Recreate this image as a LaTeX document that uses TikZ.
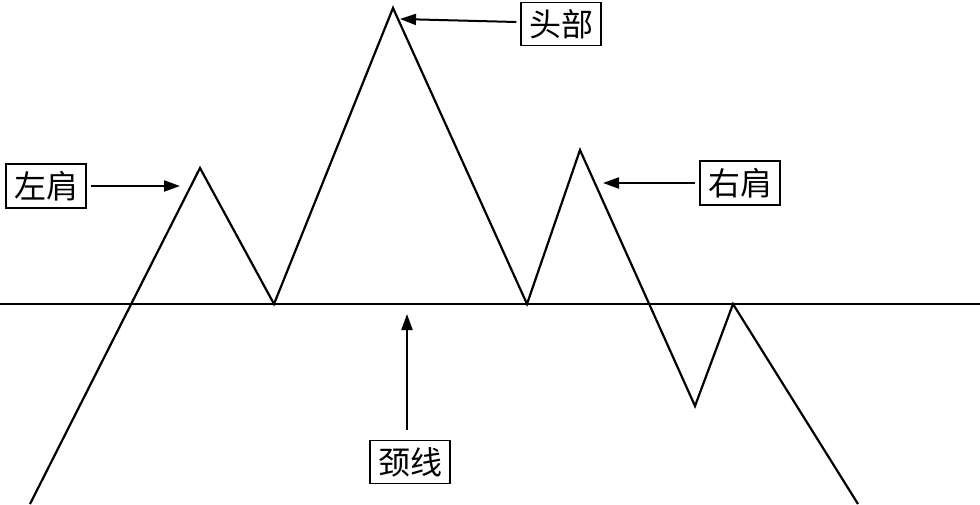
\documentclass[tikz,border=0pt]{standalone}
\usepackage{fontspec}
\newfontfamily\cjk{Noto Sans CJK SC}
\usetikzlibrary{arrows.meta}
\begin{document}
\begin{tikzpicture}[x=1pt,y=-1pt,
  lbl/.style={draw,line width=1.2pt,font=\cjk\fontsize{32}{34}\selectfont,inner xsep=8pt,inner ysep=7pt,fill=white},
  arr/.style={line width=2pt,-{Triangle[length=16pt,width=11pt]}},
  ln/.style={line width=2.2pt,line join=miter}]
\useasboundingbox (0,0) rectangle (980,504);
\draw[ln] (0,304) coordinate (nl) -- (980,304) coordinate (nr);
\draw[ln] (30,504) coordinate (s) -- (200,168) coordinate (ls) -- (274,304) coordinate (v1)
  -- (393,8) coordinate (hd) -- (527,304) coordinate (v2) -- (580,150) coordinate (rs)
  -- (695,406) coordinate (v3) -- (733,304) coordinate (v4) -- (858,504) coordinate (e);
\node[lbl] (lsl) at (46,186) {左肩};
\node[lbl] (hdl) at (561,24) {头部};
\node[lbl] (rsl) at (740,183) {右肩};
\node[lbl] (nkl) at (410,462) {颈线};
\coordinate (lsa) at (180,186);
\coordinate (hda) at (400,19);
\coordinate (rsa) at (603,183);
\coordinate (nka) at (407,314);
\draw[arr] (lsl.east) ++(4,0) -- (lsa);
\draw[arr] (hdl.west) ++(-4,-2) -- (hda);
\draw[arr] (rsl.west) ++(-4,0) -- (rsa);
\draw[arr] (nkl.north) ++(-3,-10) -- (nka);
\end{tikzpicture}
\end{document}
